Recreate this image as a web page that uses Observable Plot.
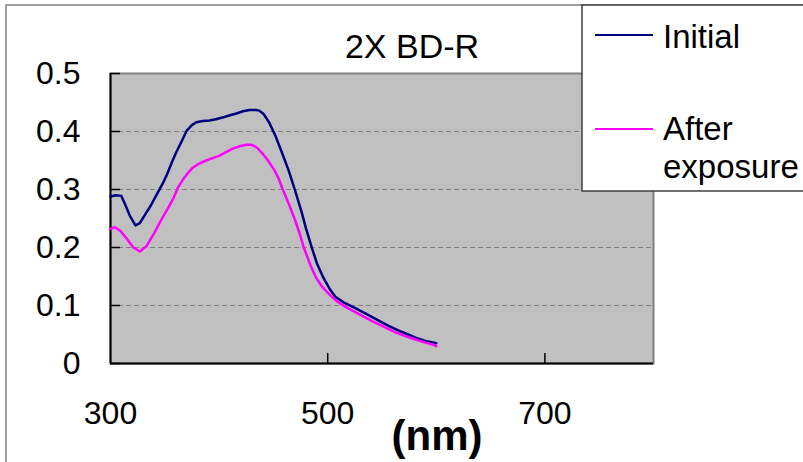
<!DOCTYPE html>
<html>
<head>
<meta charset="utf-8">
<script src="https://cdn.jsdelivr.net/npm/d3@7"></script>
<script src="https://cdn.jsdelivr.net/npm/@observablehq/plot@0.6"></script>
<style>
  html, body { margin: 0; padding: 0; background: white; }
</style>
</head>
<body>
<div id="chart"></div>
<script>
// Wavelength (nm) and absorbance values
const initialNm = [300,305,310,314,318,323,327,332,337,343,348,352,357,361,366,370,375,379,385,391,397,403,410,416,422,428,434,437,441,446,452,458,464,470,476,480,485,490,496,502,507,515,525,535,547,556,565,574,583,590,598,600];
const initialVal = [0.288,0.290,0.289,0.272,0.254,0.238,0.242,0.257,0.272,0.293,0.310,0.326,0.349,0.366,0.385,0.401,0.411,0.416,0.418,0.419,0.421,0.424,0.428,0.431,0.435,0.437,0.437,0.436,0.430,0.416,0.392,0.363,0.333,0.298,0.261,0.233,0.202,0.173,0.148,0.128,0.115,0.105,0.096,0.086,0.074,0.065,0.057,0.050,0.043,0.039,0.036,0.035];

const afterNm = [300,304,309,315,321,327,333,340,348,353,358,362,367,372,376,382,388,394,400,406,412,418,425,430,435,440,445,451,455,458,464,470,474,478,484,489,495,501,508,516,528,540,551,562,572,583,590,598,600];
const afterVal = [0.232,0.235,0.229,0.215,0.200,0.193,0.202,0.224,0.252,0.268,0.285,0.303,0.318,0.330,0.338,0.345,0.350,0.354,0.358,0.364,0.370,0.374,0.377,0.377,0.372,0.362,0.350,0.333,0.318,0.303,0.276,0.247,0.225,0.200,0.170,0.149,0.132,0.120,0.108,0.098,0.086,0.074,0.064,0.054,0.047,0.040,0.036,0.032,0.030];

const xTicks = [300, 500, 700];
const xInnerTicks = [500, 700];
const yTicks = [0, 0.1, 0.2, 0.3, 0.4, 0.5];
const yGrid = [0.1, 0.2, 0.3, 0.4];
const seriesNames = ["Initial", "After exposure"];
const seriesColors = ["#000080", "#FF00FF"];
const titleText = "2X BD-R";
const xLabelText = "(nm)";

const initial = initialNm.map((x, i) => ({x, y: initialVal[i]}));
const after = afterNm.map((x, i) => ({x, y: afterVal[i]}));

const font = "'Liberation Sans', Arial, sans-serif";

const svg = Plot.plot({
  width: 803,
  height: 462,
  marginLeft: 110,
  marginRight: 150,
  marginTop: 73,
  marginBottom: 99,
  x: {domain: [300, 800], label: null},
  y: {domain: [0, 0.5], label: null},
  style: {fontFamily: font, fontSize: "32px", background: "white", color: "black"},
  marks: [
    Plot.frame({fill: "#C0C0C0", stroke: "#808080", strokeWidth: 2}),
    Plot.gridY(yGrid, {stroke: "#808080", strokeOpacity: 1, strokeDasharray: "5,3", strokeWidth: 1}),
    Plot.axisY({ticks: yTicks, tickSize: 0, tickPadding: 30, tickFormat: d => String(d), fontSize: 32, fill: "black", label: null}),
    Plot.axisY({ticks: yTicks, tickSize: 10, dx: 10, tickFormat: () => "", stroke: "black", strokeWidth: 1.5, label: null}),
    Plot.axisX({ticks: xTicks, tickSize: 0, tickPadding: 38, tickFormat: d => String(d), fontSize: 32, fill: "black", label: null}),
    Plot.axisX({ticks: xInnerTicks, tickSize: 10, dy: -10, tickFormat: () => "", stroke: "black", strokeWidth: 1.5, label: null}),
    Plot.ruleY([0], {stroke: "black", strokeWidth: 2}),
    Plot.ruleX([300], {stroke: "black", strokeWidth: 2}),
    Plot.line(initial, {x: "x", y: "y", stroke: seriesColors[0], strokeWidth: 2.5}),
    Plot.line(after, {x: "x", y: "y", stroke: seriesColors[1], strokeWidth: 2.5}),
    Plot.text([titleText], {frameAnchor: "top", dx: 30, dy: -16, lineAnchor: "bottom", fontSize: 34, fill: "black"}),
    Plot.text([xLabelText], {frameAnchor: "bottom", dx: 55, dy: 86, lineAnchor: "bottom", fontSize: 42, fontWeight: "bold", fill: "black"})
  ]
});

document.getElementById("chart").appendChild(svg);

// Outer chart frame and legend box
const s = d3.select(svg);
s.append("rect")
  .attr("x", 6).attr("y", 5).attr("width", 820).attr("height", 480)
  .attr("fill", "none").attr("stroke", "#808080").attr("stroke-width", 1.5);

const lg = s.append("g").attr("font-family", font).attr("font-size", 33).attr("text-anchor", "start").attr("fill", "black");
lg.append("rect")
  .attr("x", 582).attr("y", 5).attr("width", 240).attr("height", 186)
  .attr("fill", "white").attr("stroke", "#404040").attr("stroke-width", 1.5);
const lineY = [35, 129];
lineY.forEach((y, i) => {
  lg.append("line").attr("x1", 595).attr("x2", 653).attr("y1", y).attr("y2", y)
    .attr("stroke", seriesColors[i]).attr("stroke-width", 2);
});
lg.append("text").attr("x", 663).attr("y", 48).text(seriesNames[0]);
const t2 = lg.append("text").attr("x", 663).attr("y", 140);
const words = seriesNames[1].split(" ");
t2.append("tspan").attr("x", 663).text(words[0]);
t2.append("tspan").attr("x", 663).attr("dy", 38).text(words[1]);
</script>
</body>
</html>
